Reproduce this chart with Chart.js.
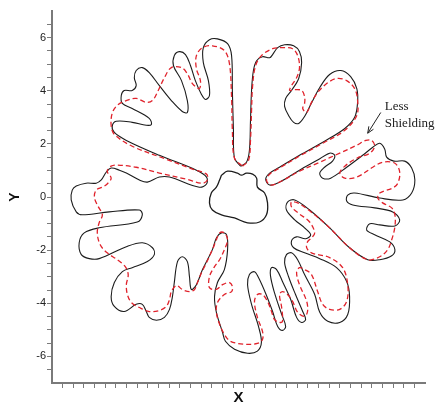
<!DOCTYPE html>
<html>
<head>
<meta charset="utf-8">
<script src="https://cdn.jsdelivr.net/npm/chart.js@4.4.0/dist/chart.umd.min.js"></script>
<style>
  html, body { margin: 0; padding: 0; background: #fff; }
  #wrap { width: 438px; height: 414px; }
</style>
</head>
<body>
<div id="wrap"><canvas id="shapeChart" width="438" height="414"></canvas></div>
<script>
// solid black contour (clockwise from the top finger)
const blackX = [0.08,0.30,0.41,0.45,0.49,0.56,0.68,0.90,1.17,1.28,
  1.47,1.73,2.07,2.29,2.37,2.26,1.99,1.77,1.73,1.88,
  2.07,2.26,2.48,2.71,3.05,3.42,3.84,4.21,4.44,4.47,
  4.36,3.99,3.23,2.29,1.54,1.17,1.02,1.17,1.54,2.29,
  2.97,3.42,3.61,3.53,3.23,3.05,3.16,3.46,4.06,4.66,
  5.04,5.30,5.49,5.56,5.83,6.24,6.50,6.62,6.50,6.17,
  5.30,4.36,4.10,4.06,4.29,5.11,5.79,6.05,5.87,5.30,
  4.93,4.81,5.11,5.68,5.87,5.75,5.30,4.85,4.17,3.42,
  2.67,2.11,1.84,1.80,2.11,2.48,2.71,2.52,2.18,1.99,
  2.07,2.48,3.05,3.68,4.06,4.17,4.10,3.80,3.35,3.05,
  2.86,2.48,2.22,1.99,1.80,1.73,1.88,2.14,2.41,2.52,
  2.37,2.18,1.96,1.65,1.43,1.24,1.20,1.35,1.62,1.77,
  1.65,1.47,1.28,1.02,0.75,0.60,0.41,0.34,0.49,0.75,
  0.86,0.71,0.34,-0.15,-0.49,-0.60,-0.83,-0.90,-0.79,-0.53,
  -0.41,-0.45,-0.64,-0.83,-0.98,-1.35,-1.58,-1.77,-1.84,-1.92,
  -2.11,-2.29,-2.41,-2.48,-2.59,-2.78,-3.08,-3.35,-3.46,-3.61,
  -3.84,-4.29,-4.66,-4.78,-4.66,-4.36,-3.99,-3.42,-3.16,-3.23,
  -3.61,-4.21,-5.23,-5.60,-5.90,-5.98,-5.79,-5.23,-3.80,-3.61,
  -3.72,-4.85,-5.87,-6.09,-6.28,-6.24,-6.09,-5.72,-5.34,-5.15,
  -4.96,-4.78,-4.47,-4.21,-3.72,-3.42,-2.97,-2.59,-1.47,-1.20,
  -1.20,-1.58,-2.97,-4.21,-4.66,-4.74,-4.59,-3.99,-3.46,-3.27,
  -3.35,-3.99,-4.36,-4.40,-4.29,-3.99,-3.84,-3.91,-3.84,-3.61,
  -3.35,-2.97,-2.52,-2.11,-1.92,-1.92,-2.14,-2.44,-2.41,-2.22,
  -1.99,-1.80,-1.62,-1.39,-1.24,-1.09,-1.13,-1.32,-1.32,-1.09,
  -0.79,-0.41,-0.26,-0.23,-0.19,-0.15,0.08];
const blackY = [1.16,1.31,1.76,2.88,4.01,4.76,5.13,5.28,5.24,5.36,
  5.62,5.73,5.69,5.47,5.06,4.46,4.01,3.71,3.41,3.07,
  2.81,2.77,3.03,3.48,4.12,4.61,4.76,4.53,4.08,3.56,
  3.00,2.58,2.10,1.57,1.12,0.90,0.67,0.45,0.56,1.01,
  1.39,1.65,1.57,1.35,1.12,0.90,0.71,0.71,1.12,1.57,
  1.87,2.02,1.80,1.50,1.35,1.35,1.09,0.64,0.15,-0.11,
  -0.04,0.15,0.07,-0.15,-0.30,-0.41,-0.56,-0.86,-1.09,-1.05,
  -1.01,-1.24,-1.42,-1.69,-1.98,-2.21,-2.36,-2.36,-1.91,-1.16,
  -0.49,-0.11,-0.19,-0.49,-0.86,-1.16,-1.42,-1.57,-1.50,-1.65,
  -1.91,-2.10,-2.32,-2.66,-3.18,-3.75,-4.42,-4.72,-4.68,-4.34,
  -3.67,-2.92,-2.36,-2.10,-2.17,-2.47,-3.00,-3.67,-4.31,-4.61,
  -4.72,-4.53,-3.86,-3.18,-2.73,-2.66,-2.96,-3.60,-4.42,-4.87,
  -5.02,-4.87,-4.31,-3.63,-3.03,-2.81,-2.92,-3.30,-4.04,-4.87,
  -5.47,-5.80,-5.88,-5.73,-5.43,-5.09,-4.34,-3.75,-3.22,-2.73,
  -1.98,-1.42,-1.35,-1.54,-1.98,-2.73,-3.30,-3.48,-3.00,-2.43,
  -2.25,-2.43,-3.22,-3.75,-4.23,-4.53,-4.64,-4.53,-4.31,-4.04,
  -4.04,-4.31,-4.12,-3.75,-3.22,-2.81,-2.66,-2.43,-2.17,-1.91,
  -1.72,-1.87,-2.32,-2.32,-2.17,-1.72,-1.35,-1.16,-0.94,-0.67,
  -0.49,-0.56,-0.67,-0.56,-0.11,0.26,0.41,0.52,0.52,0.64,
  0.94,1.09,1.01,0.90,0.64,0.56,0.75,0.75,0.37,0.49,
  0.75,1.01,1.57,2.13,2.43,2.66,2.85,2.81,2.70,2.73,
  2.96,3.33,3.52,3.82,4.01,4.01,4.19,4.49,4.76,4.87,
  4.68,4.19,3.63,3.22,3.18,3.63,4.38,4.94,5.32,5.47,
  5.36,4.94,4.38,3.86,3.67,3.82,4.38,5.06,5.62,5.92,
  5.95,5.77,5.32,4.01,2.51,1.46,1.16];

// dashed red contour ("less shielding")
const redX = [0.15,0.38,0.45,0.49,0.53,0.64,0.86,1.28,1.65,2.03,
  2.22,2.29,2.18,1.99,1.92,2.11,2.37,2.48,2.48,2.41,
  2.56,2.74,2.97,3.31,3.68,4.06,4.36,4.47,4.44,3.99,
  3.23,2.29,1.54,1.17,1.05,1.20,1.54,2.29,3.05,3.80,
  4.44,4.78,5.00,5.11,4.93,4.44,3.99,3.80,3.99,4.44,
  5.04,5.41,5.87,6.05,5.98,5.79,5.30,5.23,5.41,5.75,
  5.87,5.87,5.75,5.60,5.30,4.85,4.17,3.42,2.67,2.22,
  1.99,1.99,2.29,2.67,2.86,2.74,2.59,2.56,2.74,3.42,
  3.91,4.10,4.06,3.80,3.42,3.16,2.97,2.74,2.48,2.29,
  2.18,2.29,2.56,2.59,2.48,2.22,2.03,1.84,1.65,1.54,
  1.62,1.65,1.54,1.35,1.24,1.09,0.90,0.71,0.60,0.71,
  0.90,0.90,0.71,0.23,-0.30,-0.53,-0.71,-0.83,-0.79,-0.53,
  -0.26,-0.23,-0.34,-0.60,-0.83,-1.09,-1.09,-0.90,-0.71,-0.53,
  -0.41,-0.53,-0.71,-0.83,-0.98,-1.20,-1.39,-1.54,-1.65,-1.84,
  -2.11,-2.33,-2.52,-2.59,-2.71,-2.97,-3.35,-3.72,-4.02,-4.17,
  -4.21,-4.14,-4.25,-4.55,-4.93,-5.19,-5.30,-5.23,-5.11,-5.30,
  -5.41,-5.34,-5.11,-4.93,-4.78,-4.93,-4.78,-4.55,-3.84,-2.97,
  -1.96,-1.35,-1.17,-1.20,-1.73,-2.71,-3.99,-4.66,-4.78,-4.74,
  -4.55,-4.21,-3.84,-3.46,-3.23,-3.05,-2.78,-2.52,-2.14,-1.92,
  -1.73,-1.47,-1.43,-1.58,-1.58,-1.35,-0.98,-0.53,-0.34,-0.26,
  -0.23,-0.15,0.15];
const redY = [1.16,1.39,2.13,3.26,4.19,4.94,5.32,5.58,5.62,5.58,
  5.32,4.87,4.49,4.19,4.01,4.04,4.01,3.78,3.52,3.33,
  3.18,3.56,3.93,4.27,4.46,4.38,4.08,3.63,3.07,2.51,
  2.06,1.54,1.09,0.86,0.64,0.45,0.56,0.97,1.31,1.65,
  1.95,2.13,2.13,1.91,1.65,1.46,1.16,0.90,0.71,0.75,
  1.12,1.31,1.27,0.94,0.52,0.34,0.15,-0.04,-0.22,-0.41,
  -0.67,-1.12,-1.61,-1.98,-2.25,-2.36,-1.91,-1.16,-0.52,-0.22,
  -0.19,-0.37,-0.64,-0.94,-1.35,-1.54,-1.69,-1.91,-2.10,-2.28,
  -2.66,-3.30,-3.93,-4.23,-4.23,-4.04,-3.56,-2.92,-2.73,-2.66,
  -2.85,-3.30,-3.93,-4.31,-4.49,-4.34,-3.93,-3.67,-3.56,-3.67,
  -4.16,-4.68,-4.72,-4.61,-4.31,-3.93,-3.67,-3.67,-3.93,-4.53,
  -5.06,-5.36,-5.51,-5.54,-5.43,-5.17,-4.79,-4.34,-3.97,-3.67,
  -3.56,-3.37,-3.22,-3.30,-3.48,-3.41,-3.00,-2.62,-2.36,-1.98,
  -1.61,-1.35,-1.35,-1.61,-1.98,-2.47,-2.85,-3.22,-3.48,-3.56,
  -3.48,-3.33,-3.56,-3.86,-4.12,-4.27,-4.31,-4.16,-3.97,-3.67,
  -3.30,-2.92,-2.62,-2.36,-2.10,-1.80,-1.35,-0.97,-0.67,-0.30,
  0.00,0.26,0.37,0.49,0.71,0.97,1.16,1.20,1.12,0.90,
  0.67,0.52,0.64,0.86,1.05,1.42,1.91,2.36,2.70,3.15,
  3.45,3.63,3.71,3.56,3.63,3.93,4.49,4.87,4.87,4.64,
  4.27,4.08,4.38,4.83,5.32,5.62,5.69,5.51,5.02,3.75,
  2.51,1.46,1.16];

// small closed body at the centre
const coreX = [-0.64,-0.41,-0.04,0.11,0.30,0.53,0.68,0.71,0.98,1.09,1.05,0.79,0.34,-0.15,-0.64,-0.98,-1.09,-1.02,-0.83,-0.71,-0.64];
const coreY = [0.82,0.97,0.90,0.82,0.90,0.86,0.71,0.37,0.15,-0.22,-0.67,-0.94,-0.97,-0.79,-0.67,-0.49,-0.22,0.15,0.37,0.64,0.82];

const xTickLabels = [-6, -4, -2, 0, 2, 4, 6];
const yTickLabels = [-6, -4, -2, 0, 2, 4, 6];
const axisRange = [-7, 7];
const xMinorStep = 0.4;
const yMinorStep = 0.5;

const noteLines = ["Less", "Shielding"];
const noteAt = [[5.49, 3.26], [5.49, 2.62]];
const arrowFrom = [5.34, 3.18];
const arrowTo = [4.85, 2.40];

function toPoints(xs, ys) {
  return xs.map((x, i) => ({ x, y: ys[i] }));
}

function minorTicks(step) {
  const out = [];
  const n = Math.round((axisRange[1] - axisRange[0]) / step);
  for (let i = 1; i < n; i++) {
    out.push(Math.round((axisRange[0] + i * step) * 100) / 100);
  }
  return out;
}

function labelFor(list) {
  return (v) => {
    const r = Math.round(v * 100) / 100;
    return list.includes(r) ? String(r) : "";
  };
}

// text + arrow for the "Less Shielding" note
const notePlugin = {
  id: "shieldNote",
  afterDatasetsDraw(chart) {
    const { ctx, scales } = chart;
    const px = (p) => [scales.x.getPixelForValue(p[0]), scales.y.getPixelForValue(p[1])];
    ctx.save();
    ctx.fillStyle = "#222";
    ctx.font = '13px "Liberation Serif"';
    ctx.textAlign = "left";
    ctx.textBaseline = "alphabetic";
    noteLines.forEach((t, i) => {
      const [x, y] = px(noteAt[i]);
      ctx.fillText(t, x, y);
    });
    const [x1, y1] = px(arrowFrom);
    const [x2, y2] = px(arrowTo);
    ctx.strokeStyle = "#222";
    ctx.lineWidth = 1;
    ctx.beginPath();
    ctx.moveTo(x1, y1);
    ctx.lineTo(x2, y2);
    const a = Math.atan2(y2 - y1, x2 - x1);
    const h = 7;
    ctx.moveTo(x2 - h * Math.cos(a - 0.4), y2 - h * Math.sin(a - 0.4));
    ctx.lineTo(x2, y2);
    ctx.lineTo(x2 - h * Math.cos(a + 0.4), y2 - h * Math.sin(a + 0.4));
    ctx.stroke();
    ctx.restore();
  },
};

const axisGray = "#7a7a7a";

const ctx = document.getElementById("shapeChart").getContext("2d");
new Chart(ctx, {
  type: "scatter",
  data: {
    datasets: [
      {
        label: "Less shielding",
        data: toPoints(redX, redY),
        showLine: true,
        borderColor: "#e0222b",
        borderWidth: 1.3,
        borderDash: [5, 3],
        pointRadius: 0,
        tension: 0.35,
      },
      {
        label: "Reference",
        data: toPoints(blackX, blackY),
        showLine: true,
        borderColor: "#1c1c1c",
        borderWidth: 1.1,
        pointRadius: 0,
        tension: 0.35,
      },
      {
        label: "Core",
        data: toPoints(coreX, coreY),
        showLine: true,
        borderColor: "#1c1c1c",
        borderWidth: 1.3,
        pointRadius: 0,
        tension: 0.4,
      },
    ],
  },
  options: {
    responsive: false,
    animation: false,
    devicePixelRatio: 1,
    layout: { padding: { left: 0, right: 13, top: 11, bottom: 0 } },
    plugins: { legend: { display: false }, tooltip: { enabled: false } },
    scales: {
      x: {
        type: "linear",
        min: axisRange[0],
        max: axisRange[1],
        afterBuildTicks: (s) => { s.ticks = minorTicks(xMinorStep).map((v) => ({ value: v })); },
        afterFit: (s) => { s.height = 31; },
        grid: { drawOnChartArea: false, drawTicks: true, tickLength: 5, tickColor: axisGray, tickWidth: 1 },
        border: { display: true, color: axisGray, width: 2 },
        ticks: {
          autoSkip: false,
          maxRotation: 0,
          padding: 0,
          color: "#222",
          font: { family: "Liberation Sans", size: 11 },
          callback: labelFor(xTickLabels),
        },
        title: {
          display: true,
          text: "X",
          color: "#111",
          font: { family: "Liberation Sans", size: 15, weight: "bold", lineHeight: 1.2 },
          padding: { top: 0, bottom: 7 },
        },
      },
      y: {
        type: "linear",
        min: axisRange[0],
        max: axisRange[1],
        afterBuildTicks: (s) => { s.ticks = minorTicks(yMinorStep).map((v) => ({ value: v })); },
        afterFit: (s) => { s.width = 52; },
        grid: { drawOnChartArea: false, drawTicks: true, tickLength: 5, tickColor: axisGray, tickWidth: 1 },
        border: { display: true, color: axisGray, width: 2 },
        ticks: {
          autoSkip: false,
          padding: 1,
          color: "#222",
          font: { family: "Liberation Sans", size: 11 },
          callback: labelFor(yTickLabels),
        },
        title: {
          display: true,
          text: "Y",
          color: "#111",
          font: { family: "Liberation Sans", size: 14, weight: "bold", lineHeight: 1.2 },
          padding: { top: 7, bottom: 0 },
        },
      },
    },
  },
  plugins: [notePlugin],
});
</script>
</body>
</html>
